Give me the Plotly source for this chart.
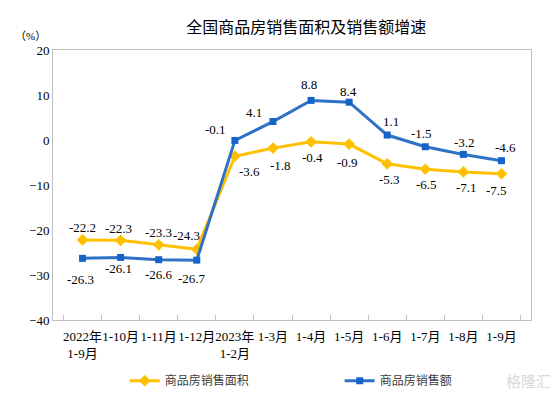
import plotly.graph_objects as go

categories = ["2022年<br>1-9月", "1-10月", "1-11月", "1-12月", "2023年<br>1-2月", "1-3月",
              "1-4月", "1-5月", "1-6月", "1-7月", "1-8月", "1-9月"]
area_growth = [-22.2, -22.3, -23.3, -24.3, -3.6, -1.8, -0.4, -0.9, -5.3, -6.5, -7.1, -7.5]
amount_growth = [-26.3, -26.1, -26.6, -26.7, -0.1, 4.1, 8.8, 8.4, 1.1, -1.5, -3.2, -4.6]
y_ticks = [20, 10, 0, -10, -20, -30, -40]

YELLOW = "#FFC000"
BLUE = "#2E72C6"
SERIF = "Liberation Serif, Times New Roman, Noto Sans CJK SC, serif"
CJK = "Noto Sans CJK SC, sans-serif"

fig = go.Figure()
fig.add_trace(go.Scatter(
    x=categories, y=area_growth, name="商品房销售面积", mode="lines+markers",
    line=dict(color=YELLOW, width=3),
    marker=dict(symbol="diamond", size=9, color=YELLOW),
))
fig.add_trace(go.Scatter(
    x=categories, y=amount_growth, name="商品房销售额", mode="lines+markers",
    line=dict(color=BLUE, width=3),
    marker=dict(symbol="square", size=7, color="#1565C8"),
))

# label offsets (style)
area_shift = [(0, 12), (-2, 12), (0, 12), (-10, 14), (15, -15), (8, -17), (1, -16), (-2, -18),
              (2, -16), (1, -15), (3, -16), (-5, -17)]
amount_shift = [(-2, -21), (-2, -11), (0, -15), (-5, -18), (-19, 11), (-19, 9), (-2, 16), (-1, 11),
                (4, 14), (-4, 13), (1, 12), (4, 13)]

for i, c in enumerate(categories):
    for vals, shifts in ((area_growth, area_shift), (amount_growth, amount_shift)):
        dx, dy = shifts[i]
        fig.add_annotation(x=c, y=vals[i], text=f"{vals[i]:.1f}", showarrow=False,
                           xshift=dx, yshift=dy,
                           font=dict(family=SERIF, size=13, color="#000000"))

fig.add_annotation(xref="paper", yref="paper", x=-0.01, y=1.052, xanchor="right", yanchor="middle",
                   text="（%）", showarrow=False, font=dict(family=SERIF, size=11, color="#000000"))
fig.add_annotation(xref="paper", yref="paper", x=1.045, y=-0.225, xanchor="right", yanchor="middle",
                   text="格隆汇", showarrow=False, font=dict(family=CJK, size=15, color="#D8D8D8"))

fig.update_layout(
    width=554, height=394,
    margin=dict(l=53, r=23, t=50, b=74, autoexpand=False),
    paper_bgcolor="white", plot_bgcolor="white",
    title=dict(text="全国商品房销售面积及销售额增速", x=0.553, xanchor="center", y=0.93, yanchor="middle",
               font=dict(family=CJK, size=16, color="#000000")),
    showlegend=True,
    legend=dict(orientation="h", x=0.15, xanchor="left", y=-0.225, yanchor="middle",
                font=dict(family=CJK, size=12, color="#404040"), itemwidth=30,
                entrywidth=170, entrywidthmode="pixels",
                bgcolor="rgba(0,0,0,0)"),
    xaxis=dict(type="category", automargin=False, showgrid=False, showline=True, linecolor="#BFBFBF",
               linewidth=1, mirror=True, ticks="inside", tickson="boundaries", ticklen=5,
               tickcolor="#BFBFBF", tickfont=dict(family=SERIF, size=13, color="#000000"), tickangle=0,
               ticklabelstandoff=4),
    yaxis=dict(range=[-40, 20], tickvals=y_ticks, automargin=False, showgrid=False, zeroline=False,
               showline=True, linecolor="#BFBFBF", linewidth=1, mirror=True,
               ticks="", tickfont=dict(family=SERIF, size=13, color="#000000")),
)

fig.write_html("out.html", config={"displayModeBar": False},
               post_script="document.body.style.margin='0';")
